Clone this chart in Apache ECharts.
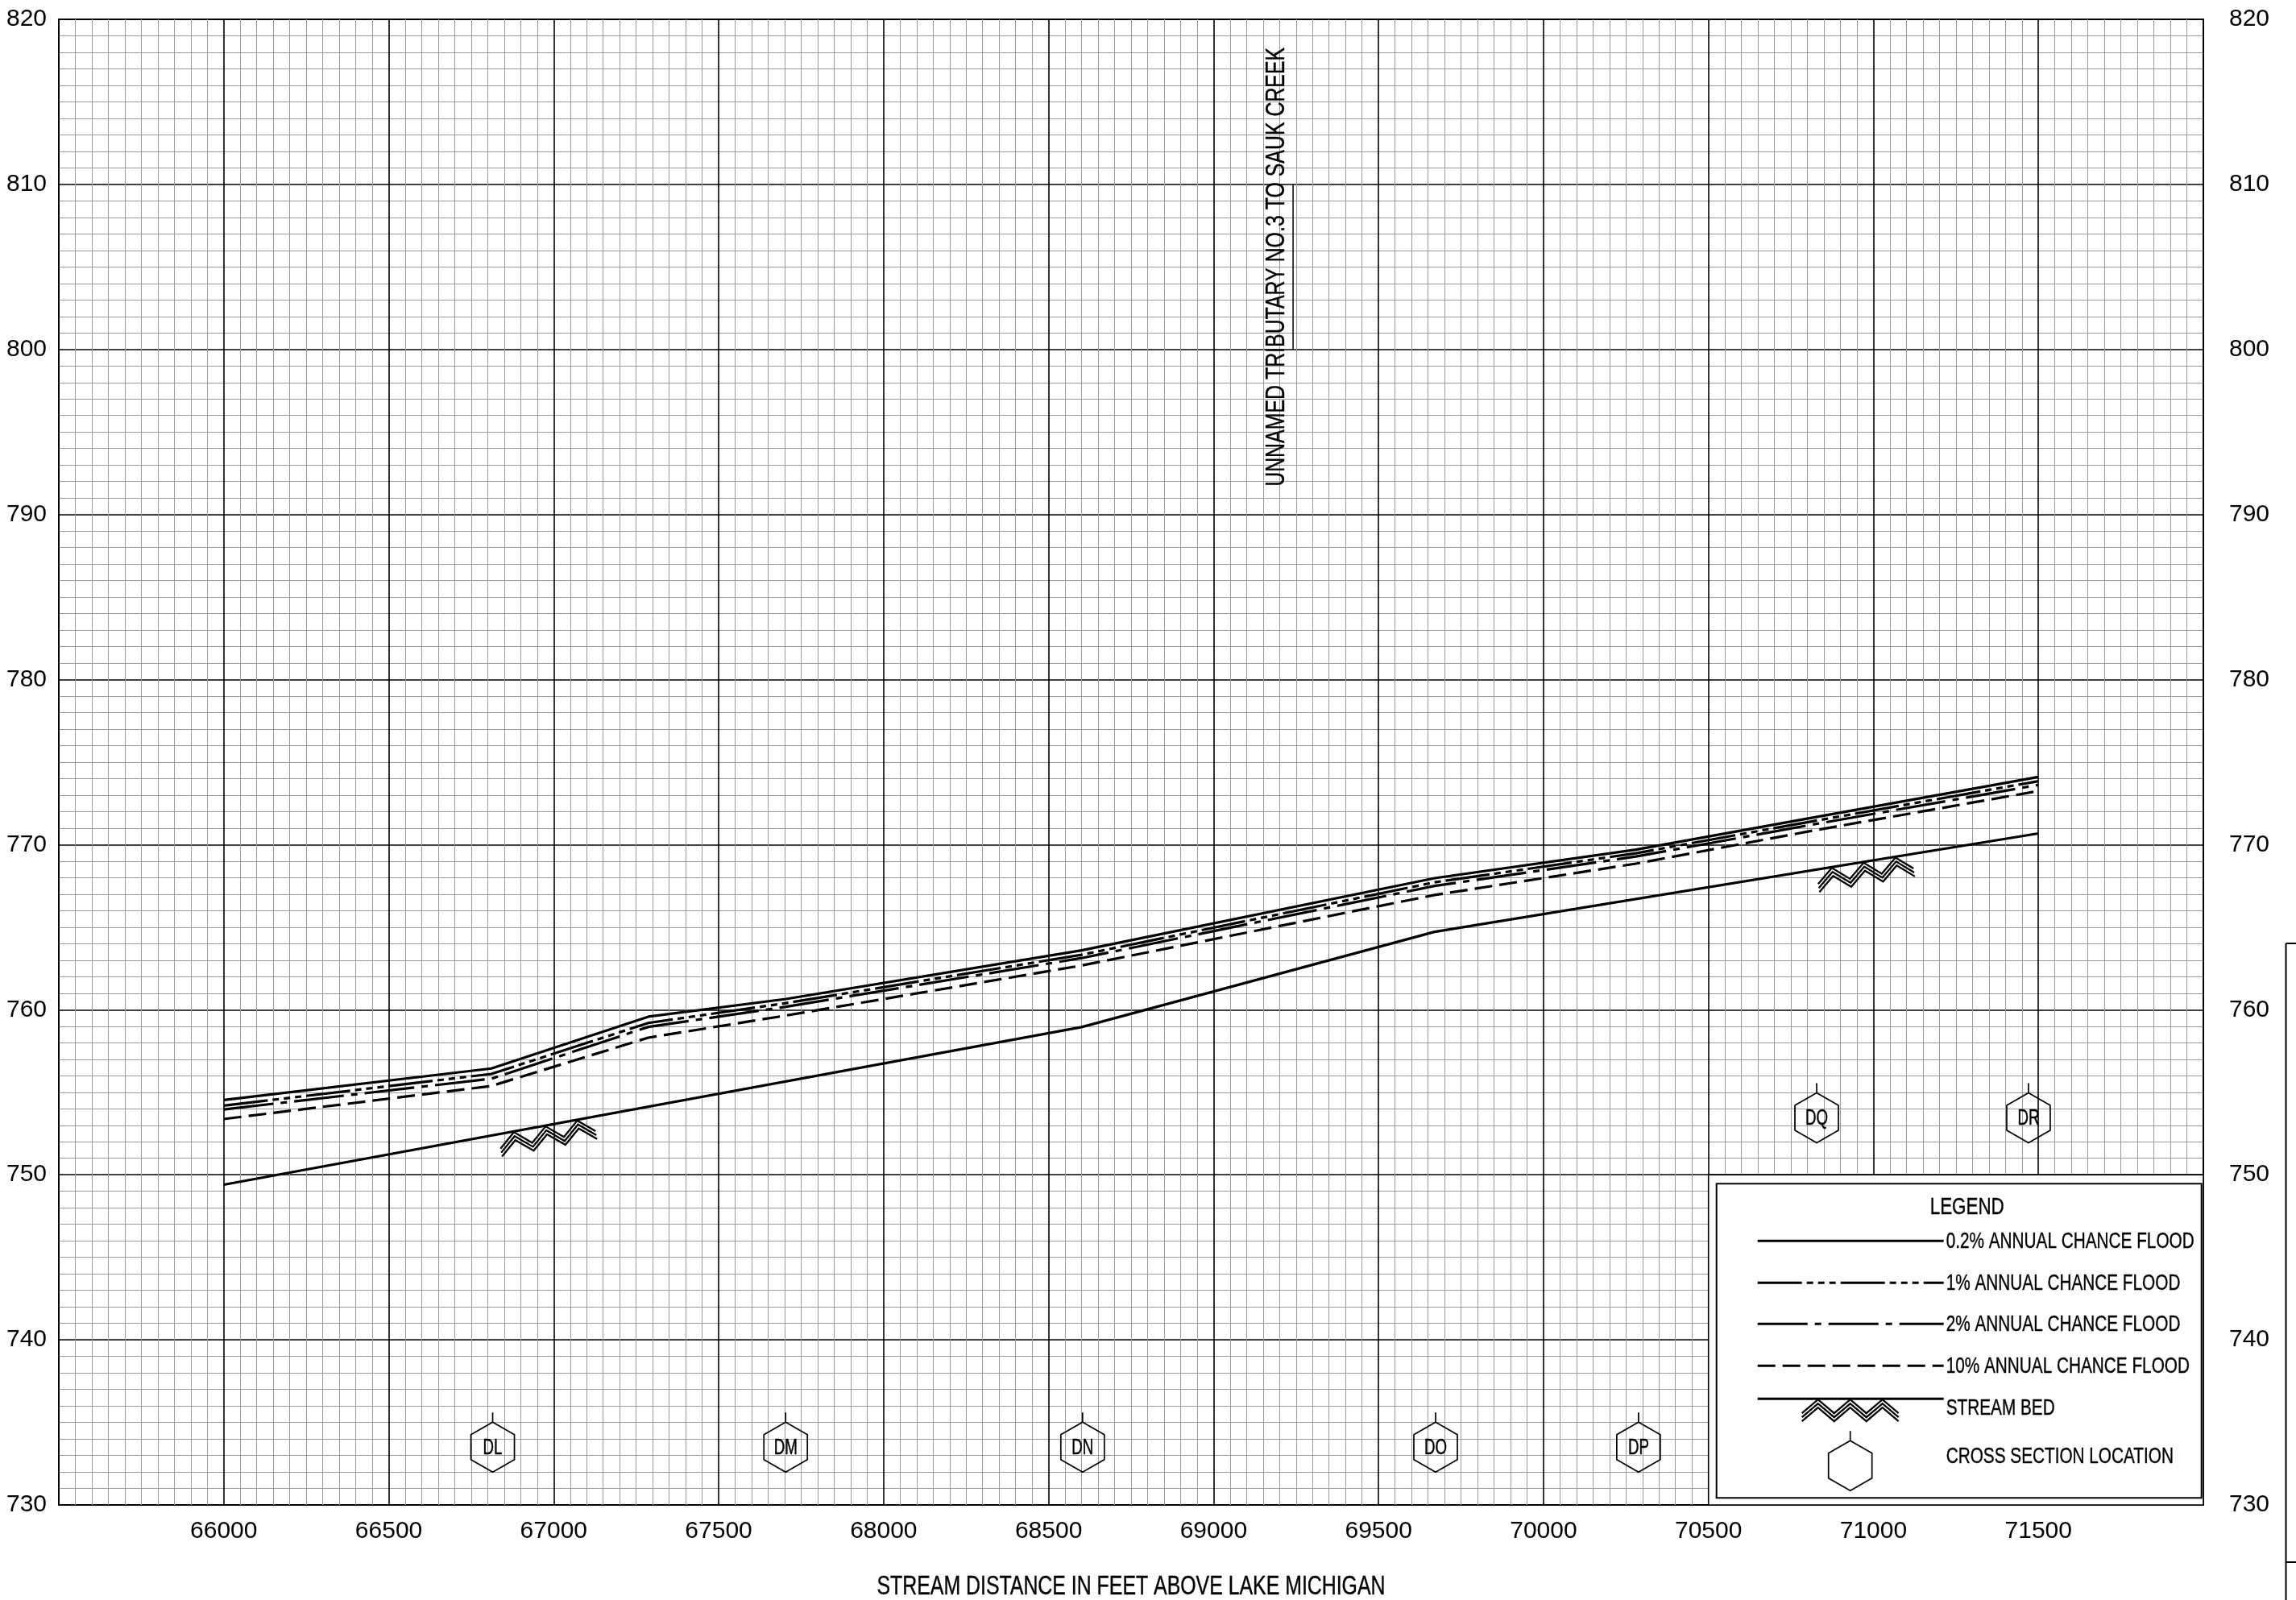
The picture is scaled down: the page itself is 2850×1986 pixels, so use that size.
<!DOCTYPE html>
<html lang="en">
<head>
<meta charset="UTF-8">
<title>flood_profile</title>
<script src="https://cdn.jsdelivr.net/npm/echarts@6/dist/echarts.min.js"></script>
<style>html,body{margin:0;padding:0;background:#fff;}</style>
</head>
<body>
<div id="profile" style="width:2850px;height:1986px"></div>
<script>
var FONT = "'Liberation Sans', Arial, sans-serif";

// profile points, stream distance in feet
var profileX = [66000, 66811, 67287, 67704, 68600, 69670, 70280, 70816, 71500];
// water surface elevations
var flood02 = [754.53, 756.44, 759.58, 760.65, 763.60, 767.97, 769.70, 771.64, 774.10];
var flood1  = [754.19, 756.11, 759.20, 760.40, 763.33, 767.72, 769.48, 771.42, 773.85];
var flood2  = [753.96, 755.82, 758.96, 760.18, 763.13, 767.50, 769.28, 771.22, 773.62];
var flood10 = [753.38, 755.38, 758.31, 759.65, 762.68, 766.95, 768.85, 770.85, 773.25];

// stream bed
var bedX = [66000, 68600, 69670, 71500];
var bedY = [749.40, 758.95, 764.72, 770.68];
var hatchX = [66975, 70970];

// cross sections
var xsNames = ['DL', 'DM', 'DN', 'DO', 'DP', 'DQ', 'DR'];
var xsX = [66815, 67703, 68603, 69673, 70288, 70828, 71470];
var xsY = [733.5, 733.5, 733.5, 733.5, 733.5, 753.45, 753.45];

var legendNames = ['0.2% ANNUAL CHANCE FLOOD', '1% ANNUAL CHANCE FLOOD', '2% ANNUAL CHANCE FLOOD', '10% ANNUAL CHANCE FLOOD'];

// line dash patterns
var DASH = [null, [55, 6, 8, 6, 8, 6, 8, 6], [62, 9, 8, 9], [22, 9]];

// the drawing uses a condensed face; squeeze normal text to the same width
var measureCtx = document.createElement('canvas').getContext('2d');
function squeeze(text, font, width) {
    measureCtx.font = font;
    return width / measureCtx.measureText(text).width;
}

function pairs(xs, ys) {
    var res = [];
    for (var i = 0; i < xs.length; i++) res.push([xs[i], ys[i]]);
    return res;
}

function bedAt(x) {
    for (var i = 1; i < bedX.length; i++) {
        if (x <= bedX[i]) {
            var t = (x - bedX[i - 1]) / (bedX[i] - bedX[i - 1]);
            return bedY[i - 1] + t * (bedY[i] - bedY[i - 1]);
        }
    }
    return bedY[bedY.length - 1];
}

var HEX = [[0, -31], [27, -15.5], [27, 15.5], [0, 31], [-27, 15.5], [-27, -15.5]];
var HEX_FONT = '27px ' + FONT;
var hexScale = squeeze('DR', HEX_FONT, 27);

function hexagon(cx, cy, label) {
    var kids = [
        {type: 'polygon', shape: {points: HEX}, style: {fill: 'none', stroke: '#000', lineWidth: 1.7}},
        {type: 'line', shape: {x1: 0, y1: -31, x2: 0, y2: -43}, style: {stroke: '#000', lineWidth: 1.7}}
    ];
    if (label) {
        kids.push({type: 'text', x: 0, y: 1, scaleX: hexScale,
            style: {text: label, x: 0, y: 0, align: 'center', verticalAlign: 'middle', font: HEX_FONT,
                fill: '#000', stroke: '#000', lineWidth: 0.5}});
    }
    return {type: 'group', x: cx, y: cy, children: kids};
}

// zigzag of triple strokes hanging below the bed line
function hatch(cx, cy, rot) {
    var kids = [];
    for (var k = 0; k < 3; k++) {
        var d = 1 + k * 5;
        var pts = [[-60, 17 + d], [-40, d], [-20, 17 + d], [0, d], [20, 17 + d], [40, d], [60, 17 + d]];
        kids.push({type: 'polyline', shape: {points: pts}, style: {fill: 'none', stroke: '#000', lineWidth: 2.3}});
    }
    return {type: 'group', x: cx, y: cy, rotation: rot, children: kids};
}

var chart = echarts.init(document.getElementById('profile'));

var series = [];
var floods = [flood02, flood1, flood2, flood10];
for (var s = 0; s < floods.length; s++) {
    series.push({
        name: legendNames[s],
        type: 'line',
        data: pairs(profileX, floods[s]),
        symbol: 'none',
        lineStyle: {color: '#000', width: 3.2, type: DASH[s] || 'solid', cap: 'butt'},
        z: 5
    });
}
series.push({
    name: 'STREAM BED',
    type: 'line',
    data: pairs(bedX, bedY),
    symbol: 'none',
    lineStyle: {color: '#000', width: 3.2},
    z: 5
});
series.push({
    name: 'bed hatch',
    type: 'custom',
    data: hatchX.map(function (x) { return [x, bedAt(x)]; }),
    renderItem: function (params, api) {
        var x = api.value(0);
        var c = api.coord([x, bedAt(x)]);
        var a = api.coord([x - 300, bedAt(x - 300)]);
        var b = api.coord([x + 300, bedAt(x + 300)]);
        var ang = Math.atan2(b[1] - a[1], b[0] - a[0]);
        return hatch(c[0], c[1], -ang);
    },
    z: 6
});
series.push({
    name: 'cross sections',
    type: 'custom',
    data: pairs(xsX, xsY),
    renderItem: function (params, api) {
        var c = api.coord([api.value(0), api.value(1)]);
        return hexagon(c[0], c[1], xsNames[params.dataIndex]);
    },
    z: 6
});
series.push({
    name: 'leader',
    type: 'line',
    data: [[69241, 800], [69241, 810]],
    symbol: 'none',
    lineStyle: {color: '#000', width: 1.5}
});

var labelStyle = {color: '#000', fontFamily: FONT, fontSize: 30};

var option = {
    backgroundColor: '#fff',
    animation: false,
    grid: {left: 73, right: 115, top: 24, bottom: 118, show: true, borderColor: '#000', borderWidth: 2},
    xAxis: {
        type: 'value', min: 65500, max: 72000, interval: 500,
        axisLine: {show: false}, axisTick: {show: false},
        minorTick: {show: false, splitNumber: 10},
        minorSplitLine: {show: true, lineStyle: {color: '#9a9a9a', width: 1}},
        splitLine: {show: true, lineStyle: {color: '#000', width: 1.6}},
        axisLabel: {margin: 18, fontSize: 30, color: '#000', fontFamily: FONT, formatter: function (v) {
            return (v === 65500 || v === 72000) ? '' : String(v);
        }}
    },
    yAxis: [{
        type: 'value', min: 730, max: 820, interval: 10,
        axisLine: {show: false}, axisTick: {show: false},
        minorTick: {show: false, splitNumber: 10},
        minorSplitLine: {show: true, lineStyle: {color: '#9a9a9a', width: 1}},
        splitLine: {show: true, lineStyle: {color: '#000', width: 1.6}},
        axisLabel: Object.assign({margin: 15}, labelStyle)
    }, {
        type: 'value', position: 'right', min: 730, max: 820, interval: 10,
        axisLine: {show: false}, axisTick: {show: false}, splitLine: {show: false},
        axisLabel: Object.assign({margin: 32}, labelStyle)
    }],
    series: series
};
chart.setOption(option);

// legend box and notes, placed from the axes
var p0 = chart.convertToPixel({gridIndex: 0}, [70500, 750]);
var p1 = chart.convertToPixel({gridIndex: 0}, [72000, 730]);
var tp = chart.convertToPixel({gridIndex: 0}, [69190, 805]);
var mid = chart.convertToPixel({gridIndex: 0}, [68750, 730]);

var LEG_FONT = '28px ' + FONT;
var legScale = squeeze(legendNames[0], LEG_FONT, 308);
function legendText(text, x, y) {
    return {type: 'text', x: x, y: y, scaleX: legScale,
        style: {text: text, x: 0, y: 0, align: 'left', verticalAlign: 'middle', font: LEG_FONT,
            fill: '#000', stroke: '#000', lineWidth: 0.4}};
}

var TITLE_FONT = '30px ' + FONT;
var legendKids = [
    {type: 'rect', shape: {x: 0, y: 0, width: p1[0] - p0[0], height: p1[1] - p0[1]},
        style: {fill: '#fff', stroke: '#000', lineWidth: 1.6}},
    {type: 'rect', shape: {x: 10, y: 11, width: 602, height: 390},
        style: {fill: 'none', stroke: '#000', lineWidth: 2}},
    {type: 'text', x: 321, y: 41, scaleX: squeeze('LEGEND', TITLE_FONT, 92),
        style: {text: 'LEGEND', x: 0, y: 0, align: 'center', verticalAlign: 'middle', font: TITLE_FONT,
            fill: '#000', stroke: '#000', lineWidth: 0.4}}
];
var rowY = [82, 134, 185, 237];
for (var r = 0; r < 4; r++) {
    legendKids.push({type: 'line', shape: {x1: 61, y1: rowY[r], x2: 292, y2: rowY[r]},
        style: {stroke: '#000', lineWidth: 3, lineDash: DASH[r] || null}});
    legendKids.push(legendText(legendNames[r], 295, rowY[r] + 1));
}
legendKids.push({type: 'line', shape: {x1: 61, y1: 278, x2: 292, y2: 278}, style: {stroke: '#000', lineWidth: 3}});
legendKids.push(hatch(176, 278, 0));
legendKids.push(legendText('STREAM BED', 295, 290));
legendKids.push(hexagon(176, 361, null));
legendKids.push(legendText('CROSS SECTION LOCATION', 295, 350));

var NOTE = 'UNNAMED TRIBUTARY NO.3 TO SAUK CREEK';
var NOTE_FONT = '34px ' + FONT;
var XNAME = 'STREAM DISTANCE IN FEET ABOVE LAKE MICHIGAN';
var XNAME_FONT = '34px ' + FONT;

chart.setOption({
    graphic: [
        {type: 'group', x: p0[0], y: p0[1], z: 100, children: legendKids},
        {type: 'text', x: tp[0], y: tp[1], rotation: Math.PI / 2, scaleX: squeeze(NOTE, NOTE_FONT, 545), z: 100,
            style: {text: NOTE, x: 0, y: 0, align: 'center', verticalAlign: 'middle', font: NOTE_FONT,
                fill: '#000', stroke: '#000', lineWidth: 0.4}},
        {type: 'text', x: mid[0], y: mid[1] + 102, scaleX: squeeze(XNAME, XNAME_FONT, 631), z: 100,
            style: {text: XNAME, x: 0, y: 0, align: 'center', verticalAlign: 'middle', font: XNAME_FONT,
                fill: '#000', stroke: '#000', lineWidth: 0.4}},
        {type: 'line', z: 100, shape: {x1: 2837.5, y1: 1171, x2: 2837.5, y2: 1986}, style: {stroke: '#000', lineWidth: 2}},
        {type: 'line', z: 100, shape: {x1: 2837.5, y1: 1171, x2: 2850, y2: 1171}, style: {stroke: '#000', lineWidth: 2}},
        {type: 'line', z: 100, shape: {x1: 2837.5, y1: 1939, x2: 2850, y2: 1939}, style: {stroke: '#000', lineWidth: 2}}
    ]
});
</script>
</body>
</html>
